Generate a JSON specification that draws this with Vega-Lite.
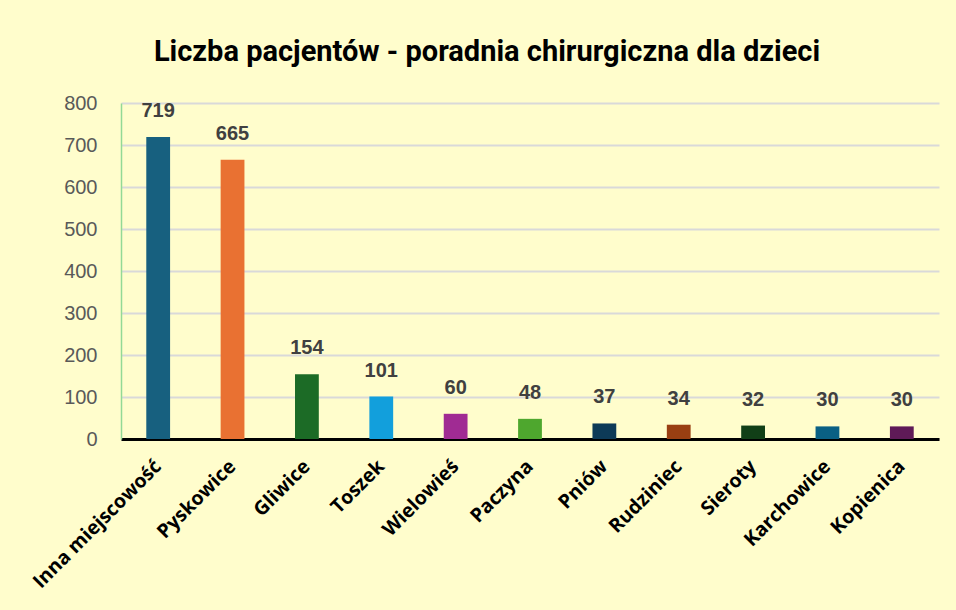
{
  "$schema": "https://vega.github.io/schema/vega-lite/v6.json",
  "autosize": "none",
  "width": 818,
  "height": 336,
  "padding": {"left": 121, "top": 103, "right": 17, "bottom": 171},
  "background": "#FFFDCC",
  "title": {
    "text": "Liczba pacjentów - poradnia chirurgiczna dla dzieci",
    "font": "Roboto",
    "fontSize": 29,
    "fontWeight": "bold",
    "color": "#000000",
    "anchor": "middle",
    "dx": -43,
    "offset": 26
  },
  "data": {
    "values": [
      {"miejscowosc": "Inna miejscowość", "liczba": 719, "kolor": "#17607F"},
      {"miejscowosc": "Pyskowice", "liczba": 665, "kolor": "#E97132"},
      {"miejscowosc": "Gliwice", "liczba": 154, "kolor": "#1C6B26"},
      {"miejscowosc": "Toszek", "liczba": 101, "kolor": "#129FDC"},
      {"miejscowosc": "Wielowieś", "liczba": 60, "kolor": "#A02B93"},
      {"miejscowosc": "Paczyna", "liczba": 48, "kolor": "#4EA72E"},
      {"miejscowosc": "Pniów", "liczba": 37, "kolor": "#0D3A57"},
      {"miejscowosc": "Rudziniec", "liczba": 34, "kolor": "#993F12"},
      {"miejscowosc": "Sieroty", "liczba": 32, "kolor": "#113F17"},
      {"miejscowosc": "Karchowice", "liczba": 30, "kolor": "#0A6084"},
      {"miejscowosc": "Kopienica", "liczba": 30, "kolor": "#5F1A57"}
    ]
  },
  "encoding": {
    "x": {
      "field": "miejscowosc",
      "type": "nominal",
      "sort": null,
      "title": null,
      "scale": {"paddingInner": 0.68, "paddingOuter": 0.34},
      "axis": {
        "labelAngle": -45,
        "labelAlign": "right",
        "labelBaseline": "middle",
        "labelFont": "Open Sans",
        "labelFontSize": 19.5,
        "labelFontWeight": "bold",
        "labelColor": "#000000",
        "labelPadding": 24,
        "ticks": false,
        "domainColor": "#000000",
        "domainWidth": 3,
        "grid": false
      }
    },
    "y": {
      "field": "liczba",
      "type": "quantitative",
      "title": null,
      "scale": {"domain": [0, 800]},
      "axis": {
        "values": [0, 100, 200, 300, 400, 500, 600, 700, 800],
        "labelFont": "Liberation Sans",
        "labelFontSize": 20,
        "labelColor": "#595959",
        "labelPadding": 24,
        "ticks": false,
        "domainColor": "#92D996",
        "domainWidth": 1.5,
        "gridColor": "#D9D9D9",
        "gridWidth": 2
      }
    }
  },
  "layer": [
    {
      "mark": {"type": "bar"},
      "encoding": {
        "color": {"field": "kolor", "type": "nominal", "scale": null, "legend": null}
      }
    },
    {
      "mark": {
        "type": "text",
        "baseline": "alphabetic",
        "dy": -20,
        "font": "Liberation Sans",
        "fontSize": 20,
        "fontWeight": "bold",
        "color": "#404040"
      },
      "encoding": {
        "text": {"field": "liczba", "type": "quantitative"}
      }
    }
  ],
  "config": {
    "view": {"stroke": null}
  }
}
